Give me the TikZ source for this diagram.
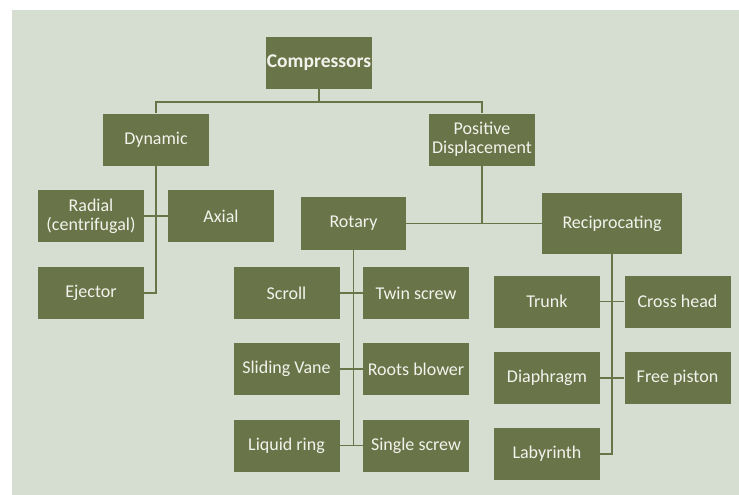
\documentclass[tikz,border=0pt]{standalone}
\usepackage{fontspec}
\setmainfont{Carlito}
\usepackage{tikz}
\usetikzlibrary{calc}

\definecolor{paper}{RGB}{214,221,209}
\definecolor{olive}{RGB}{106,116,73}
\definecolor{label}{RGB}{242,243,236}

\tikzset{
    box/.style={fill=olive, text=label, minimum width=106pt, minimum height=52pt,
        inner sep=0pt, align=center, font=\fontsize{18}{19}\selectfont},
    link/.style={draw=olive, line width=1.6pt}
}

\begin{document}
\begin{tikzpicture}[x=1pt, y=-1pt]
        \useasboundingbox (0,0) rectangle (739,495);
        \fill[paper] (12,10) rectangle (739,495);

        \node[box, font=\fontsize{19.5}{20}\selectfont\bfseries] (comp) at (319,63) {Compressors};
        \node[box] (dyn) at (156,139.5) {Dynamic};
        \node[box] (posd) at (482,139.5) {Positive\\Displacement};

        \node[box] (radial) at (91,216) {Radial\\(centrifugal)};
        \node[box] (axial) at (221,216) {Axial};
        \node[box] (ejector) at (91,293) {Ejector};

        \node[box, minimum width=105pt, minimum height=53pt] (rotary) at (353.5,223.5) {Rotary};
        \node[box, minimum width=140pt, minimum height=61pt] (recip) at (612,223.5) {Reciprocating};

        \node[box] (scroll) at (286.5,293) {Scroll};
        \node[box] (twin) at (416,293) {Twin screw};
        \node[box] (sliding) at (286.5,369) {Sliding Vane};
        \node[box] (roots) at (416,369) {Roots blower};
        \node[box] (liquid) at (286.5,445.5) {Liquid ring};
        \node[box] (single) at (416,445.5) {Single screw};

        \node[box] (trunk) at (547,301.5) {Trunk};
        \node[box] (cross) at (677.5,301.5) {Cross head};
        \node[box] (diaph) at (547,378) {Diaphragm};
        \node[box] (free) at (677.5,378) {Free piston};
        \node[box] (laby) at (547,454) {Labyrinth};

        \coordinate (split) at ($(comp.south)+(0,13)$);
        \draw[link] (comp.south) -- (split);
        \draw[link] (dyn.north) |- (split) -| (posd.north);

        \draw[link] (dyn.south) |- (ejector.east);
        \draw[link] (radial.east) -- (axial.west);

        \draw[link] (posd.south) |- (recip.west);
        \draw[link] (rotary.east) -- (recip.west);

        \draw[link] (rotary.south) -- (rotary.south |- liquid.east);
        \draw[link] (scroll.east) -- (twin.west);
        \draw[link] (sliding.east) -- (roots.west);
        \draw[link] (liquid.east) -- (single.west);

        \draw[link] (recip.south) |- (laby.east);
        \draw[link] (trunk.east) -- (cross.west);
        \draw[link] (diaph.east) -- (free.west);

    \end{tikzpicture}
\end{document}
